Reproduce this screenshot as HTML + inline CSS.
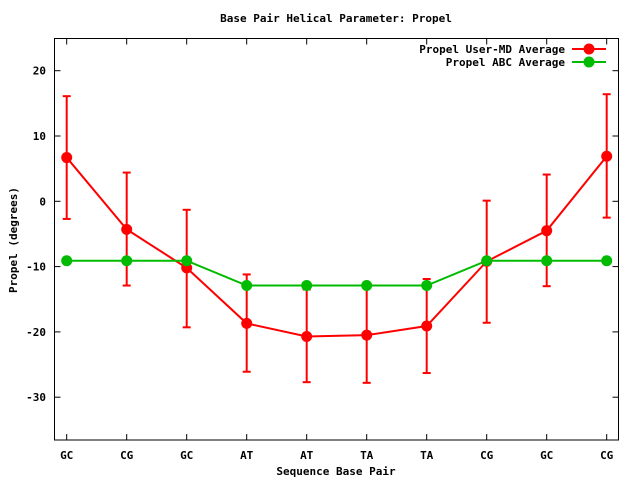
<!DOCTYPE html>
<html><head><style>body{margin:0;background:#fff}svg{display:block}text{font-family:"DejaVu Sans Mono","Liberation Mono",monospace;font-weight:bold;font-size:11px;fill:#000}</style></head>
<body>
<svg width="640" height="480" viewBox="0 0 640 480" xmlns="http://www.w3.org/2000/svg">
<text x="336" y="22" text-anchor="middle">Base Pair Helical Parameter: Propel</text>
<rect x="54.5" y="38.5" width="564" height="401.5" fill="none" stroke="#000" stroke-width="1"/>
<g stroke="#000" stroke-width="1" id="ticks"></g>
<g id="lbl"></g>
<text x="336" y="475" text-anchor="middle">Sequence Base Pair</text>
<text transform="translate(17,240) rotate(-90)" text-anchor="middle">Propel (degrees)</text>
<g id="data"></g>
<text x="565" y="53" text-anchor="end">Propel User-MD Average</text>
<text x="565" y="66" text-anchor="end">Propel ABC Average</text>
<line x1="572" y1="49" x2="606" y2="49" stroke="#f00" stroke-width="2"/>
<circle cx="589" cy="49" r="5.5" fill="#f00"/>
<line x1="572" y1="62" x2="606" y2="62" stroke="#0b0" stroke-width="2"/>
<circle cx="589" cy="62" r="5.5" fill="#0b0"/>
<script>
var ns="http://www.w3.org/2000/svg";
function el(p,t,a,txt){var e=document.createElementNS(ns,t);for(var k in a)e.setAttribute(k,a[k]);if(txt)e.textContent=txt;document.getElementById(p).appendChild(e);}
function Y(v){return 201.3-6.53*v;}
function X(i){return 66.7+60*i;}
var labs=["GC","CG","GC","AT","AT","TA","TA","CG","GC","CG"];
for(var i=0;i<10;i++){var x=X(i);
el("ticks","line",{x1:x,y1:440,x2:x,y2:434});el("ticks","line",{x1:x,y1:38.5,x2:x,y2:44.5});
el("lbl","text",{x:x,y:459,"text-anchor":"middle"},labs[i]);}
for(var v=20;v>=-30;v-=10){var y=Y(v);
el("ticks","line",{x1:54.5,y1:y,x2:60.5,y2:y});el("ticks","line",{x1:618.5,y1:y,x2:612.5,y2:y});
el("lbl","text",{x:46,y:y+4,"text-anchor":"end"},String(v));}
var r=[6.7,-4.3,-10.2,-18.7,-20.7,-20.5,-19.1,-9.2,-4.5,6.9];
var hi=[16.1,4.4,-1.3,-11.2,-13.5,-13.3,-11.9,0.1,4.1,16.4];
var lo=[-2.7,-12.9,-19.3,-26.1,-27.7,-27.8,-26.3,-18.6,-13.0,-2.5];
var g=[-9.1,-9.1,-9.1,-12.9,-12.9,-12.9,-12.9,-9.1,-9.1,-9.1];
var pr="",pg="";
for(var i=0;i<10;i++){pr+=(i?"L":"M")+X(i)+","+Y(r[i]);pg+=(i?"L":"M")+X(i)+","+Y(g[i]);}
for(var i=0;i<10;i++){var x=X(i);
el("data","line",{x1:x,y1:Y(hi[i]),x2:x,y2:Y(lo[i]),stroke:"#f00","stroke-width":2});
el("data","line",{x1:x-4,y1:Y(hi[i]),x2:x+4,y2:Y(hi[i]),stroke:"#f00","stroke-width":2});
el("data","line",{x1:x-4,y1:Y(lo[i]),x2:x+4,y2:Y(lo[i]),stroke:"#f00","stroke-width":2});}
el("data","path",{d:pr,fill:"none",stroke:"#f00","stroke-width":2});
el("data","path",{d:pg,fill:"none",stroke:"#0b0","stroke-width":2});
for(var i=0;i<10;i++){el("data","circle",{cx:X(i),cy:Y(r[i]),r:5.5,fill:"#f00"});el("data","circle",{cx:X(i),cy:Y(g[i]),r:5.5,fill:"#0b0"});}
</script>
</svg>
</body></html>
